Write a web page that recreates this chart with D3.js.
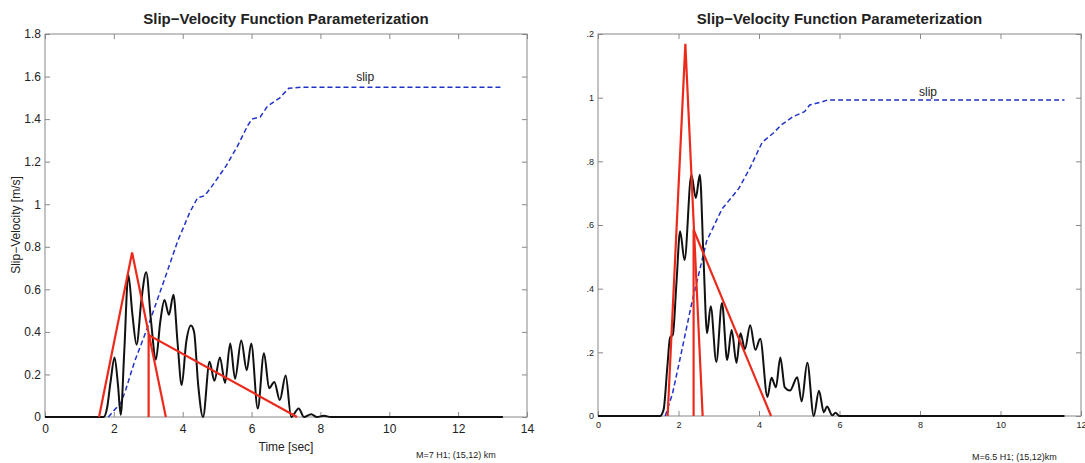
<!DOCTYPE html>
<html>
<head>
<meta charset="utf-8">
<script src="https://cdn.jsdelivr.net/npm/d3@7"></script>
<style>
  body { margin: 0; background: #fff; }
  text { font-family: "Liberation Sans", Arial, sans-serif; fill: #222; }
</style>
</head>
<body>
<svg id="chart" width="1085" height="463"></svg>
<script>
// ---- data ----
// left panel: M=7
var leftVelocity = [[0,0],[1.70,0],[1.80,0.04],[1.90,0.16],[2.02,0.28],[2.12,0.15],[2.20,0.01],[2.30,0.30],[2.42,0.67],[2.54,0.48],
  [2.66,0.34],[2.80,0.55],[2.94,0.68],[3.08,0.45],[3.22,0.27],[3.35,0.45],[3.47,0.55],[3.60,0.48],[3.73,0.575],[3.85,0.35],
  [3.97,0.15],[4.10,0.35],[4.24,0.43],[4.33,0.40],[4.45,0.15],[4.59,0.0],[4.78,0.26],[4.92,0.17],[5.08,0.28],[5.23,0.16],
  [5.38,0.345],[5.52,0.18],[5.70,0.36],[5.86,0.22],[5.99,0.345],[6.18,0.04],[6.36,0.30],[6.51,0.135],[6.66,0.165],[6.82,0.08],
  [6.99,0.195],[7.15,0],[7.37,0.04],[7.52,0],[7.73,0.013],[7.90,0],[8.10,0.006],[8.30,0],[13.3,0]];
var leftSlip = [[1.84,0],[2.0,0.03],[2.2,0.065],[2.35,0.13],[2.6,0.26],[3.0,0.43],[3.5,0.66],[3.86,0.83],[4.02,0.89],[4.2,0.96],
  [4.43,1.03],[4.64,1.04],[4.85,1.085],[5.26,1.18],[5.58,1.27],[5.89,1.37],[6.01,1.40],[6.25,1.41],[6.46,1.46],[6.82,1.50],
  [7.08,1.545],[7.45,1.55],[13.3,1.55]];
var leftTri1 = [[1.57,0],[2.53,0.773],[3.51,0]];
var leftTri2 = [[3.01,0],[3.01,0.385],[7.32,0]];
var leftXTicks = [0,2,4,6,8,10,12,14];
var leftYTicks = [0,0.2,0.4,0.6,0.8,1,1.2,1.4,1.6,1.8];

// right panel: M=6.5
var rightVelocity = [[0,0],[1.54,0],[1.63,0.02],[1.72,0.15],[1.79,0.246],[1.86,0.256],[1.95,0.42],[2.04,0.58],[2.15,0.49],
  [2.32,0.758],[2.43,0.685],[2.53,0.758],[2.62,0.5],[2.71,0.26],[2.80,0.345],[2.94,0.17],[3.08,0.355],[3.21,0.176],[3.32,0.27],
  [3.44,0.167],[3.54,0.26],[3.65,0.21],[3.78,0.285],[3.91,0.208],[4.03,0.243],[4.21,0.06],[4.31,0.12],[4.42,0.09],[4.53,0.184],
  [4.64,0.09],[4.77,0.08],[4.95,0.122],[5.06,0.046],[5.20,0.167],[5.36,0],[5.49,0.079],[5.61,0.012],[5.69,0.03],[5.82,0.002],
  [5.90,0.01],[6.0,0],[11.59,0]];
var rightSlip = [[1.67,0],[1.85,0.07],[2.0,0.157],[2.33,0.355],[2.7,0.55],[3.08,0.65],[3.5,0.715],[3.78,0.78],[4.08,0.86],
  [4.35,0.888],[4.55,0.914],[4.84,0.94],[5.13,0.956],[5.26,0.977],[5.59,0.988],[5.71,0.993],[11.59,0.993]];
var rightTri1 = [[1.73,0],[2.17,1.169],[2.60,0]];
var rightTri2 = [[2.375,0],[2.375,0.585],[4.3,0]];
var rightXTicks = [0,2,4,6,8,10,12];
var rightYTicks = [0,0.2,0.4,0.6,0.8,1,1.2];

var svg = d3.select('#chart');

// the right panel is cropped on its left side in the original figure
svg.append('defs').append('clipPath').attr('id','rclip')
  .append('rect').attr('x',587).attr('y',0).attr('width',498).attr('height',463);

function drawPanel(g, p) {
  var x = d3.scaleLinear().domain(p.xdom).range(p.xr);
  var y = d3.scaleLinear().domain(p.ydom).range(p.yr);
  var fmt = d3.format('~g');

  // axes: ticks inside on all four sides
  var ax = [
    [d3.axisBottom(x).tickValues(p.xticks).tickSize(-5).tickPadding(p.xpad).tickFormat(fmt), 'translate(0,'+p.yr[0]+')'],
    [d3.axisTop(x).tickValues(p.xticks).tickSize(-5).tickFormat(''), 'translate(0,'+p.yr[1]+')'],
    [d3.axisLeft(y).tickValues(p.yticks).tickSize(-5).tickPadding(p.ypad).tickFormat(fmt), 'translate('+p.xr[0]+',0)'],
    [d3.axisRight(y).tickValues(p.yticks).tickSize(-5).tickFormat(''), 'translate('+p.xr[1]+',0)']
  ];
  ax.forEach(function(a) {
    var ag = g.append('g').attr('transform', a[1]).call(a[0]);
    ag.select('.domain').remove();
    ag.selectAll('line').attr('stroke','#888');
    ag.selectAll('text').style('font-family','"Liberation Sans", Arial, sans-serif')
      .style('font-size', p.tickFont+'px').attr('fill','#222');
  });
  g.append('rect')
    .attr('x',p.xr[0]).attr('y',p.yr[1])
    .attr('width',p.xr[1]-p.xr[0]).attr('height',p.yr[0]-p.yr[1])
    .attr('fill','none').attr('stroke','#888').attr('stroke-width',1);

  var line = d3.line().x(d=>x(d[0])).y(d=>y(d[1]));
  var smooth = d3.line().x(d=>x(d[0])).y(d=>y(d[1])).curve(d3.curveMonotoneX);

  g.append('path').datum(p.slip).attr('d',line)
    .attr('fill','none').attr('stroke','#2233cc').attr('stroke-width',1.5).attr('stroke-dasharray','5,3');
  g.append('path').datum(p.vel).attr('d',smooth)
    .attr('fill','none').attr('stroke','#111').attr('stroke-width',2);
  [p.tri1, p.tri2].forEach(function(t) {
    g.append('path').datum(t).attr('d',line)
      .attr('fill','none').attr('stroke','#ec2a1c').attr('stroke-width',2.2).attr('stroke-linejoin','miter');
  });

  g.append('text').attr('x',x(p.slipLabel[0])).attr('y',y(p.slipLabel[1]))
    .attr('text-anchor','middle').style('font-size','12px').text('slip');
  g.append('text').attr('x',(p.xr[0]+p.xr[1])/2).attr('y',24)
    .attr('text-anchor','middle').style('font-size','15px').style('font-weight','bold')
    .text('Slip\u2212Velocity Function Parameterization');
  g.append('text').attr('x',p.note[0]).attr('y',p.note[1])
    .style('font-size','9px').text(p.noteText);
  return {x:x, y:y};
}

var left = svg.append('g');
drawPanel(left, {
  xdom:[0,14], ydom:[0,1.8], xr:[45,527], yr:[417,34],
  xticks:leftXTicks, yticks:leftYTicks, tickFont:12, xpad:7, ypad:4,
  vel:leftVelocity, slip:leftSlip, tri1:leftTri1, tri2:leftTri2,
  slipLabel:[9.3,1.58], note:[416,458], noteText:'M=7 H1; (15,12) km'
});
left.append('text').attr('x',286).attr('y',451).attr('text-anchor','middle')
  .style('font-size','12px').text('Time [sec]');
left.append('text').attr('transform','translate(20,225) rotate(-90)').attr('text-anchor','middle')
  .style('font-size','12px').text('Slip\u2212Velocity [m/s]');

var right = svg.append('g').attr('clip-path','url(#rclip)');
drawPanel(right, {
  xdom:[0,12], ydom:[0,1.2], xr:[598,1081], yr:[416,34],
  xticks:rightXTicks, yticks:rightYTicks, tickFont:9, xpad:6, ypad:4,
  vel:rightVelocity, slip:rightSlip, tri1:rightTri1, tri2:rightTri2,
  slipLabel:[8.2,1.005], note:[972,460], noteText:'M=6.5 H1; (15,12)km'
});
</script>
</body>
</html>
